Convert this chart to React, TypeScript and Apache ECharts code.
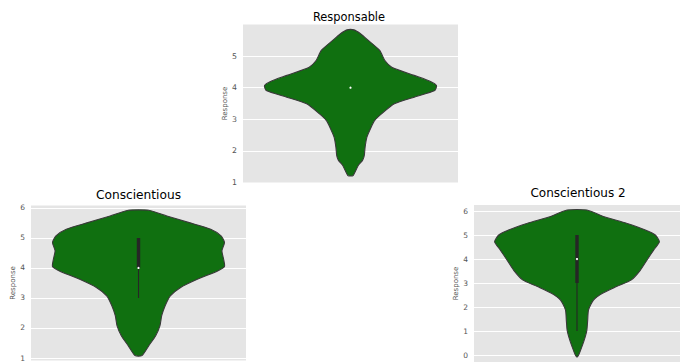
import React, { useEffect, useRef } from 'react';
import * as echarts from 'echarts';

// ---- data ----
const titles = ['Responsable', 'Conscientious', 'Conscientious 2'];
const axisName = 'Response';

// Responsable: violin outline (response value, relative density 0..1)
const respValues = [5.83, 5.7, 5.49, 5.18, 4.86, 4.65, 4.39, 4.2, 4.07, 3.91, 3.7, 3.49, 3.17, 2.96, 2.75, 2.43, 2.12, 1.85, 1.7, 1.54, 1.22];
const respDensity = [0.04, 0.12, 0.21, 0.34, 0.4, 0.48, 0.74, 0.93, 1.0, 0.98, 0.74, 0.51, 0.36, 0.28, 0.24, 0.19, 0.17, 0.16, 0.14, 0.09, 0.03];
// [whisker low, Q1, median, Q3, whisker high]
const respBox = [4, 4, 4, 4, 4];

// Conscientious
const consValues = [5.92, 5.73, 5.51, 5.29, 5.07, 4.85, 4.57, 4.29, 4.05, 3.9, 3.63, 3.35, 3.07, 2.74, 2.41, 2.08, 1.74, 1.41, 1.08];
const consDensity = [0.12, 0.33, 0.59, 0.84, 0.96, 1.0, 0.97, 0.99, 1.0, 0.92, 0.69, 0.49, 0.37, 0.31, 0.27, 0.25, 0.2, 0.12, 0.04];
const consBox = [3, 4, 4, 5, 5];

// Conscientious 2
const cons2Values = [6.04, 5.76, 5.49, 5.21, 5.0, 4.72, 4.37, 3.96, 3.54, 3.13, 2.85, 2.57, 2.29, 1.88, 1.46, 1.04, 0.76, 0.35, 0.0, -0.07];
const cons2Density = [0.12, 0.33, 0.6, 0.83, 0.95, 1.0, 0.93, 0.85, 0.77, 0.66, 0.48, 0.31, 0.2, 0.14, 0.13, 0.12, 0.1, 0.06, 0.02, 0.005];
const cons2Box = [1, 3, 4, 5, 5];

// y-axis extents
const yMin = [1, 0.92, -0.29];
const yMax = [6, 6.08, 6.25];

const FILL = '#107010';
const EDGE = '#3a3a3a';
const HALF = 0.4;

function makeRender(vals: number[], dens: number[], box: number[]) {
  return (_params: any, api: any) => {
    const left = vals.map((v, i) => api.coord([-HALF * dens[i], v]));
    const right = vals.map((v, i) => api.coord([HALF * dens[i], v])).reverse();
    const pts = left.concat(right);
    const [wl, q1, med, q3, wh] = box;
    const pWl = api.coord([0, wl]);
    const pWh = api.coord([0, wh]);
    const pQ1 = api.coord([0, q1]);
    const pQ3 = api.coord([0, q3]);
    const pMed = api.coord([0, med]);
    const children: any[] = [
      {
        type: 'polygon',
        shape: { points: pts, smooth: 0.2 },
        style: { fill: FILL, stroke: EDGE, lineWidth: 1.1 },
      },
    ];
    if (wh > wl) {
      children.push({
        type: 'line',
        shape: { x1: pWl[0], y1: pWl[1], x2: pWh[0], y2: pWh[1] },
        style: { stroke: '#262626', lineWidth: 1.1 },
      });
    }
    if (q3 > q1) {
      children.push({
        type: 'rect',
        shape: { x: pQ3[0] - 1.7, y: pQ3[1], width: 3.4, height: pQ1[1] - pQ3[1] },
        style: { fill: '#262626' },
      });
    }
    children.push({
      type: 'circle',
      shape: { cx: pMed[0], cy: pMed[1], r: 1.1 },
      style: { fill: '#ffffff' },
    });
    return { type: 'group', children };
  };
}

export default function App() {
  const ref = useRef<HTMLDivElement>(null);
  useEffect(() => {
    if (!ref.current) return;
    const chart = echarts.init(ref.current, undefined, { renderer: 'svg' });
    const grids = [
      { left: 243, top: 24.5, width: 215, height: 158 },
      { left: 31, top: 205.5, width: 215, height: 157 },
      { left: 474, top: 205, width: 215, height: 157 },
    ];
    const nameGaps = [12, 12, 11];
    const labelSizes = [7.8, 7.5, 7.5];
    const fmt = (hideTop: number | null) => (v: number) => {
      const r = Math.round(v);
      if (Math.abs(v - r) > 1e-6) return '';
      if (hideTop !== null && r === hideTop) return '';
      return String(r);
    };
    const titlePos = [
      { x: 349, y: 16.7, size: 11.4 },
      { x: 138.5, y: 195, size: 12.2 },
      { x: 578, y: 193.3, size: 12 },
    ];
    const datasets = [
      [respValues, respDensity, respBox],
      [consValues, consDensity, consBox],
      [cons2Values, cons2Density, cons2Box],
    ];
    chart.setOption({
      animation: false,
      grid: grids.map((g) => ({
        ...g,
        show: true,
        backgroundColor: '#E5E5E5',
        borderWidth: 0,
        containLabel: false,
      })),
      xAxis: grids.map((_, i) => ({
        type: 'value',
        gridIndex: i,
        min: -0.5,
        max: 0.5,
        show: false,
      })),
      yAxis: grids.map((_, i) => ({
        type: 'value',
        gridIndex: i,
        min: yMin[i],
        max: yMax[i],
        minInterval: 1,
        maxInterval: 1,
        name: axisName,
        nameLocation: 'middle',
        nameRotate: 90,
        nameGap: nameGaps[i],
        nameTextStyle: { color: '#555555', fontSize: 7, fontFamily: 'DejaVu Sans' },
        axisLine: { show: false },
        axisTick: { show: false },
        axisLabel: {
          color: '#555555',
          fontSize: labelSizes[i],
          fontFamily: 'DejaVu Sans',
          margin: 6,
          formatter: fmt(i === 0 ? 6 : null),
        },
        splitLine: {
          show: true,
          showMinLine: false,
          showMaxLine: false,
          lineStyle: { color: '#ffffff', width: 1 },
        },
      })),
      graphic: titles.map((t, i) => ({
        type: 'text',
        x: titlePos[i].x,
        y: titlePos[i].y,
        style: {
          text: t,
          font: `${titlePos[i].size}px "DejaVu Sans"`,
          fill: '#000000',
          textAlign: 'center',
          textVerticalAlign: 'middle',
          align: 'center',
          verticalAlign: 'middle',
        },
      })),
      series: datasets.map((d, i) => ({
        type: 'custom',
        coordinateSystem: 'cartesian2d',
        xAxisIndex: i,
        yAxisIndex: i,
        renderItem: makeRender(d[0], d[1], d[2]),
        data: [[0, d[2][2]]],
        clip: true,
      })),
    });
    return () => chart.dispose();
  }, []);
  return (
    <div
      ref={ref}
      style={{ position: 'fixed', left: 0, top: 0, width: 680, height: 362, overflow: 'hidden', background: '#fff' }}
    />
  );
}
